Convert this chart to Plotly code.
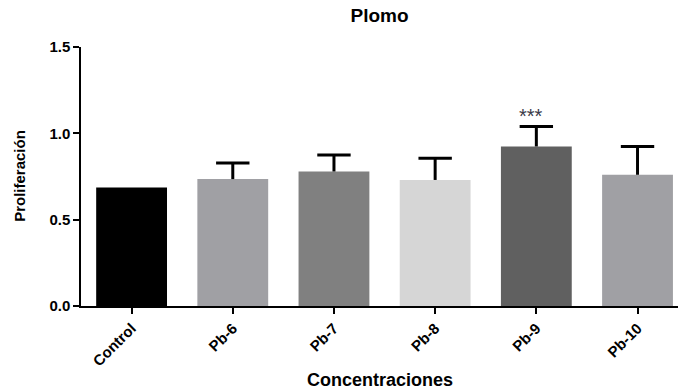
import plotly.graph_objects as go

categories = ["Control", "Pb-6", "Pb-7", "Pb-8", "Pb-9", "Pb-10"]
values = [0.687, 0.735, 0.779, 0.730, 0.924, 0.760]
errors = [0.0, 0.093, 0.095, 0.125, 0.116, 0.164]
colors = ["#000000", "#a0a0a4", "#808080", "#d6d6d6", "#606060", "#a0a0a4"]
yticks = [0.0, 0.5, 1.0, 1.5]
ytick_labels = ["0.0", "0.5", "1.0", "1.5"]
sig_category = "Pb-9"
sig_value = 1.102
sig_label = "***"

FONT = "Liberation Sans, Arial, sans-serif"
CAP_HALF = 0.165  # cap half-width in category units

xpos = list(range(len(categories)))

fig = go.Figure()
fig.add_trace(go.Bar(
    x=xpos,
    y=values,
    width=0.70,
    marker=dict(color=colors, line=dict(width=0)),
    showlegend=False, hoverinfo="skip",
))

# one-sided (upper) error bars: stem + top cap only
ex, ey = [], []
for i, v, e in zip(xpos, values, errors):
    if e <= 0:
        continue
    ex += [i, i, None, i - CAP_HALF, i + CAP_HALF, None]
    ey += [v, v + e, None, v + e, v + e, None]
fig.add_trace(go.Scatter(x=ex, y=ey, mode="lines",
                         line=dict(color="#000000", width=3),
                         showlegend=False, hoverinfo="skip", cliponaxis=False))

fig.add_annotation(x=categories.index(sig_category), y=sig_value, text=sig_label,
                   showarrow=False, xshift=-5, yanchor="middle",
                   font=dict(family=FONT, size=20, color="#3a3a48"))

fig.add_annotation(x=0.5, y=-0.285, xref="paper", yref="paper",
                   text="<b>Concentraciones</b>", showarrow=False,
                   yanchor="middle", font=dict(family=FONT, size=18, color="#000"))
fig.add_annotation(x=-0.102, y=0.503, xref="paper", yref="paper",
                   text="<b>Proliferación</b>", showarrow=False, textangle=-90,
                   xanchor="center", yanchor="middle",
                   font=dict(family=FONT, size=15, color="#000"))

fig.update_layout(
    width=678, height=391,
    margin=dict(l=81, r=0, t=47, b=85),
    paper_bgcolor="white", plot_bgcolor="white",
    title=dict(text="<b>Plomo</b>", x=0.5, xref="paper", y=1 - 15 / 391,
               yref="container", yanchor="middle",
               font=dict(family=FONT, size=19, color="#000")),
    xaxis=dict(range=[-0.5, 5.4], tickmode="array",
               tickvals=xpos, ticktext=[f"<b>{c}</b>" for c in categories],
               tickangle=-45, ticks="outside", ticklen=6, tickwidth=1.5, tickcolor="#000",
               showline=True, linecolor="#000", linewidth=1.5, showgrid=False, zeroline=False,
               tickfont=dict(family=FONT, size=15, color="#000")),
    yaxis=dict(range=[0, 1.5], tickmode="array", tickvals=yticks,
               ticktext=[f"<b>{t}</b>" for t in ytick_labels],
               ticks="outside", ticklen=6, tickwidth=1.5, tickcolor="#000",
               showline=True, linecolor="#000", linewidth=1.5, showgrid=False, zeroline=False,
               tickfont=dict(family=FONT, size=15, color="#000")),
)

fig.write_html("out.html")
